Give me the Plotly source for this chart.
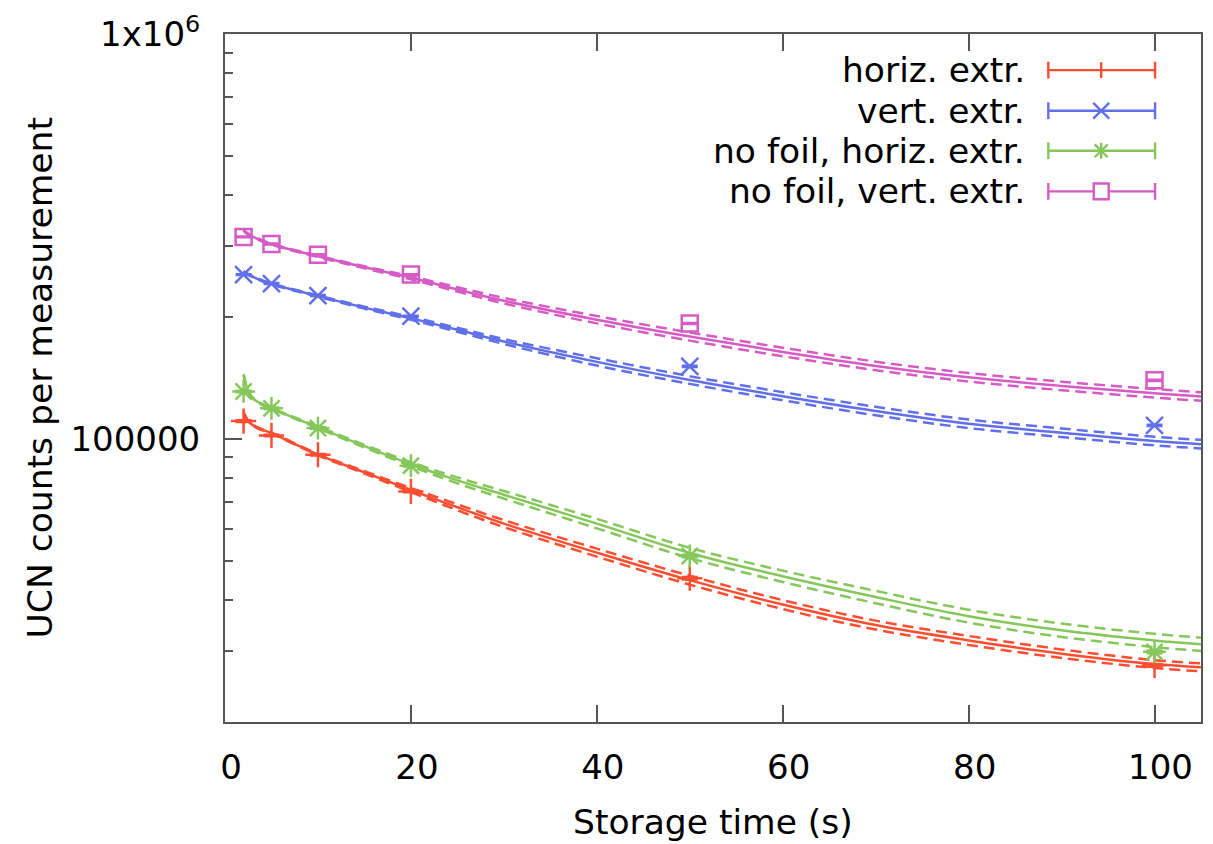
import plotly.graph_objects as go

# ---------------- data ----------------
t_meas = [2, 5, 10, 20, 50, 100]
cnt_horiz = [110700, 102000, 91400, 74200, 45300, 27600]
cnt_vert = [254600, 242000, 226000, 201000, 151000, 108000]
cnt_nofoil_horiz = [131000, 119000, 106400, 85900, 51400, 29800]
cnt_nofoil_vert = [315500, 303000, 285000, 254600, 192800, 139600]

err_horiz = [600, 550, 500, 450, 350, 250]
err_vert = [900, 850, 800, 750, 650, 500]
err_nofoil_horiz = [650, 600, 550, 500, 380, 270]
err_nofoil_vert = [1000, 950, 900, 850, 750, 600]

t_fit = [2.0, 2.3, 2.7, 3.5, 5, 10, 15, 20, 25, 30, 40, 50, 60, 70, 80, 90, 100, 105]

fit_horiz = [116000, 112500, 109500, 106500, 103400, 91500, 82700, 74800, 67800, 61800,
             52400, 44800, 39000, 34700, 31800, 29500, 27800, 27300]
fit_horiz_up = [116300, 112800, 109800, 106800, 103700, 91870, 83260, 75650, 68950, 63030,
                53590, 45950, 40000, 35590, 32620, 30220, 28430, 27920]
fit_horiz_lo = [115700, 112200, 109200, 106200, 103100, 91140, 82140, 73960, 66670, 60590,
                51230, 43680, 38020, 33830, 31000, 28790, 27180, 26690]

fit_nofoil_horiz = [144000, 135000, 128500, 123500, 119000, 106800, 96000, 86600, 79000, 72800,
                    61800, 52300, 45800, 40700, 36500, 33700, 31800, 31100]
fit_nofoil_horiz_up = [144400, 135380, 128860, 123850, 119340, 107280, 96710, 87580, 80350, 74370,
                       63490, 53850, 47290, 42150, 37860, 35000, 33020, 32300]
fit_nofoil_horiz_lo = [143600, 134620, 128140, 123150, 118670, 106320, 95300, 85630, 77680, 71260,
                       60150, 50790, 44350, 39300, 35190, 32450, 30620, 29950]

fit_vert = [259000, 256500, 253500, 248500, 241500, 225300, 211000, 198600, 186000, 174000,
            155000, 139800, 127500, 117200, 109000, 103600, 98800, 97100]
fit_vert_up = [259730, 257220, 254210, 249200, 242180, 226190, 212190, 200280, 188110, 176470,
               158260, 142900, 130480, 120070, 111670, 106140, 101220, 99480]
fit_vert_lo = [258270, 255780, 252790, 247800, 240820, 224410, 209810, 196930, 183920, 171570,
               151800, 136760, 124590, 114400, 106390, 101120, 96440, 94780]

fit_nofoil_vert = [328000, 323000, 318500, 312000, 302600, 282500, 265500, 250000, 234000, 219500,
                   197000, 179000, 164000, 151500, 142000, 135200, 129600, 127300]
fit_nofoil_vert_up = [328920, 323910, 319400, 312880, 303450, 283620, 267000, 252120, 236920, 222990,
                      201150, 183180, 168020, 155210, 145480, 138510, 132780, 130420]
fit_nofoil_vert_lo = [327080, 322090, 317600, 311120, 301750, 281390, 264010, 247900, 231120, 216070,
                      192940, 174920, 160080, 147880, 138600, 131970, 126500, 124260]

labels = ["horiz. extr.", "vert. extr.", "no foil, horiz. extr.", "no foil, vert. extr."]
y_tick_vals = [1e5, 1e6]
y_tick_text = ["100000", "1x10<sup>6</sup>"]
y_minor_vals = [2e4, 3e4, 4e4, 5e4, 6e4, 7e4, 8e4, 9e4, 2e5, 3e5, 4e5, 5e5, 6e5, 7e5, 8e5, 9e5]
x_tick_vals = [0, 20, 40, 60, 80, 100]

# ---------------- style ----------------
RED = "#fd4e32"
BLUE = "#6170ea"
GREEN = "#85c75a"
MAG = "#d65bc4"
FONT = "DejaVu Sans"
AXC = "#555555"

series = [
    (labels[0], RED, "cross-thin", 18, cnt_horiz, err_horiz, fit_horiz, fit_horiz_up, fit_horiz_lo),
    (labels[1], BLUE, "x-thin", 17, cnt_vert, err_vert, fit_vert, fit_vert_up, fit_vert_lo),
    (labels[2], GREEN, "asterisk", 19, cnt_nofoil_horiz, err_nofoil_horiz, fit_nofoil_horiz,
     fit_nofoil_horiz_up, fit_nofoil_horiz_lo),
    (labels[3], MAG, "square-open", 16, cnt_nofoil_vert, err_nofoil_vert, fit_nofoil_vert,
     fit_nofoil_vert_up, fit_nofoil_vert_lo),
]

fig = go.Figure()
LW = 2.5
for name, col, sym, msz, cnt, err, fit, up, lo in series:
    for band in (up, lo):
        fig.add_trace(go.Scatter(x=t_fit, y=band, mode="lines", showlegend=False,
                                 line=dict(color=col, width=LW, dash="11px,6px",
                                           shape="spline", smoothing=1.0),
                                 hoverinfo="skip"))
    fig.add_trace(go.Scatter(x=t_fit, y=fit, mode="lines", showlegend=False,
                             line=dict(color=col, width=LW, shape="spline", smoothing=1.0),
                             hoverinfo="skip"))
for name, col, sym, msz, cnt, err, fit, up, lo in series:
    fig.add_trace(go.Scatter(x=t_meas, y=cnt, mode="markers", name=name, showlegend=False,
                             marker=dict(symbol=sym, size=msz, color=col,
                                         line=dict(color=col, width=2.5)),
                             error_y=dict(type="data", array=err, visible=True, color=col,
                                          thickness=2.2, width=8)))

# ---------------- custom legend (text left, sample right) ----------------
L, R, T, B = 225, 10, 27, 122
W, H = 1213, 844
PW, PH = W - L - R, H - T - B


def px2x(px):
    return (px - L) / PW


def px2y(py):
    return (H - B - py) / PH


rows_y = [63.5, 104.5, 145, 186]
shapes = []
annotations = []
for (name, col, sym, *_), ry in zip(series, rows_y):
    annotations.append(dict(x=px2x(1029), y=px2y(ry), xref="paper", yref="paper",
                            text=name, showarrow=False, xanchor="right", yanchor="middle",
                            font=dict(family=FONT, size=34.5, color="black")))
    ln = dict(color=col, width=2.4)
    shapes.append(dict(type="line", xref="paper", yref="paper", x0=px2x(1050), x1=px2x(1157),
                       y0=px2y(ry), y1=px2y(ry), line=ln))
    for cx in (1050, 1157):
        shapes.append(dict(type="line", xref="paper", yref="paper", x0=px2x(cx), x1=px2x(cx),
                           y0=px2y(ry - 8.5), y1=px2y(ry + 8.5), line=ln))
    mx = 1103
    s = 8
    if sym in ("cross-thin", "asterisk"):
        shapes.append(dict(type="line", xref="paper", yref="paper", x0=px2x(mx), x1=px2x(mx),
                           y0=px2y(ry - s), y1=px2y(ry + s), line=ln))
    if sym in ("x-thin", "asterisk"):
        k = s if sym == "x-thin" else 6.5
        shapes.append(dict(type="line", xref="paper", yref="paper", x0=px2x(mx - k), x1=px2x(mx + k),
                           y0=px2y(ry - k), y1=px2y(ry + k), line=ln))
        shapes.append(dict(type="line", xref="paper", yref="paper", x0=px2x(mx - k), x1=px2x(mx + k),
                           y0=px2y(ry + k), y1=px2y(ry - k), line=ln))
    if sym == "square-open":
        shapes.append(dict(type="rect", xref="paper", yref="paper", x0=px2x(mx - 7.5), x1=px2x(mx + 7.5),
                           y0=px2y(ry - 8), y1=px2y(ry + 8), line=ln, fillcolor="white"))

# axis titles as annotations
annotations.append(dict(x=0.5, y=px2y(823), xref="paper", yref="paper", text="Storage time (s)",
                        showarrow=False, xanchor="center", yanchor="middle",
                        font=dict(family=FONT, size=34.5, color="black")))
annotations.append(dict(x=px2x(40), y=0.5, xref="paper", yref="paper",
                        text="UCN counts per measurement", textangle=-90,
                        showarrow=False, xanchor="center", yanchor="middle",
                        font=dict(family=FONT, size=34.5, color="black")))

fig.update_layout(
    width=W, height=H,
    margin=dict(l=L, r=R, t=T, b=B, pad=0),
    paper_bgcolor="white", plot_bgcolor="white",
    font=dict(family=FONT, size=34, color="black"),
    showlegend=False,
    shapes=shapes, annotations=annotations,
    xaxis=dict(range=[0, 105], tickmode="array", tickvals=x_tick_vals,
               ticks="inside", ticklen=17, tickwidth=1.5, tickcolor=AXC,
               showline=True, linecolor=AXC, linewidth=2, mirror="ticks",
               showgrid=False, zeroline=False, ticklabelstandoff=14, ticklabelshift=6,
               tickfont=dict(family=FONT, size=34, color="black")),
    yaxis=dict(type="log", range=[4.30103, 6.0], tickmode="array", tickvals=y_tick_vals,
               ticktext=y_tick_text, ticks="inside", ticklen=17, tickwidth=1.5, tickcolor=AXC,
               minor=dict(tickmode="array", tickvals=y_minor_vals, ticks="inside", ticklen=8,
                          tickwidth=1.5, tickcolor=AXC, showgrid=False),
               showline=True, linecolor=AXC, linewidth=2, mirror=True,
               showgrid=False, zeroline=False, ticklabelstandoff=16,
               tickfont=dict(family=FONT, size=34, color="black")),
)

fig.write_html("out.html")
